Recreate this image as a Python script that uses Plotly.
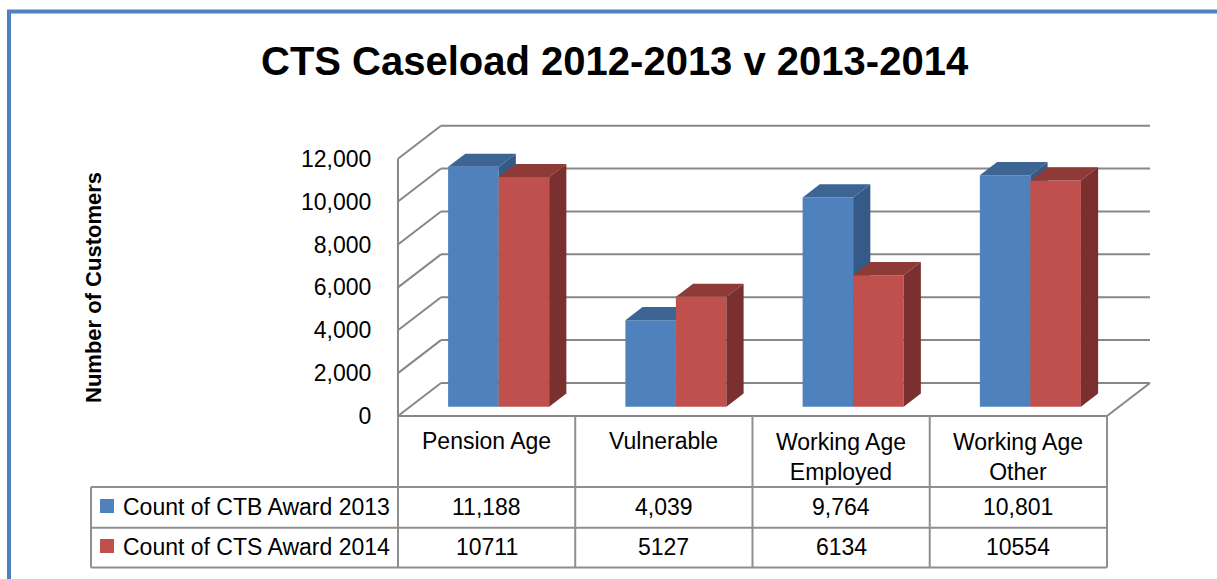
import plotly.graph_objects as go

# ---------------- data ----------------
categories = ["Pension Age", "Vulnerable", "Working Age<br>Employed", "Working Age<br>Other"]
series_names = ["Count of CTB Award 2013", "Count of CTS Award 2014"]
ctb_2013 = [11188, 4039, 9764, 10801]
cts_2014 = [10711, 5127, 6134, 10554]
y_ticks = [0, 2000, 4000, 6000, 8000, 10000, 12000]
title_text = "CTS Caseload 2012-2013 v 2013-2014"
y_title = "Number of Customers"

# ---------------- layout geometry ----------------
FIG_W, FIG_H = 1217, 579
X0, COLW = 486.6, 177.25          # pixel of first category centre, pixels per category
Y0, SCALE = 416.0, 0.021442       # pixel of value 0 (front), pixels per unit value
DXu = 43 / COLW                   # depth offset in x units
DYu = 33 / SCALE                  # depth offset in value units
BAR_W = 0.285
D_FRONT, D_BACK = 0.28, 0.68
FONT = "Liberation Sans"
GRID = "#878787"
TABLE_LINE = "#8f8f8f"

colors_front = ["#4F81BD", "#C0504D"]
colors_top = ["#3D6594", "#8E3B38"]
colors_side = ["#365A88", "#7A302E"]

x_range = [(0 - X0) / COLW, (FIG_W - X0) / COLW]
y_range = [(Y0 - FIG_H) / SCALE, Y0 / SCALE]


def pxx(px):
    return px / FIG_W


def pyy(py):
    return 1 - py / FIG_H


fig = go.Figure()

# ---------------- walls / gridlines ----------------
n = len(categories)
left, right = -0.5, n - 0.5
gx, gy = [], []
for v in y_ticks:
    gx += [left + DXu, right + DXu, None]
    gy += [v + DYu, v + DYu, None]
    gx += [left, left + DXu, None]
    gy += [v, v + DYu, None]
gx += [left, left, None]
gy += [0, max(y_ticks), None]
gx += [right, right + DXu, None]
gy += [0, DYu, None]
fig.add_trace(go.Scatter(x=gx, y=gy, mode="lines", line=dict(color=GRID, width=2),
                         hoverinfo="skip", showlegend=False))

# ---------------- 3D bars ----------------
sx, sy = D_FRONT * DXu, D_FRONT * DYu
bx, by = D_BACK * DXu, D_BACK * DYu
for s, vals in enumerate([ctb_2013, cts_2014]):
    fx, fy, tx, ty, kx, ky = [], [], [], [], [], []
    for i, v in enumerate(vals):
        x0 = i - BAR_W + s * BAR_W
        x1 = x0 + BAR_W
        fx += [x0 + sx, x1 + sx, x1 + sx, x0 + sx, x0 + sx, None]
        fy += [sy, sy, v + sy, v + sy, sy, None]
        tx += [x0 + sx, x1 + sx, x1 + bx, x0 + bx, x0 + sx, None]
        ty += [v + sy, v + sy, v + by, v + by, v + sy, None]
        kx += [x1 + sx, x1 + bx, x1 + bx, x1 + sx, x1 + sx, None]
        ky += [sy, by, v + by, v + sy, sy, None]
    for xs, ys, col in [(fx, fy, colors_front[s]), (tx, ty, colors_top[s]), (kx, ky, colors_side[s])]:
        fig.add_trace(go.Scatter(x=xs, y=ys, mode="lines", fill="toself", fillcolor=col,
                                 line=dict(width=0, color=col), hoverinfo="skip",
                                 showlegend=False, name=series_names[s]))

# ---------------- data table ----------------
shapes = []
row_py = [416, 487, 527.7, 567.5]
table_left_px = 91
shapes.append(dict(type="line", xref="x", yref="paper", x0=left, x1=right,
                   y0=pyy(row_py[0]), y1=pyy(row_py[0]), line=dict(color=GRID, width=2)))
for py in row_py[1:]:
    shapes.append(dict(type="line", xref="paper", yref="paper", x0=pxx(table_left_px),
                       x1=(right - x_range[0]) / (x_range[1] - x_range[0]),
                       y0=pyy(py), y1=pyy(py), line=dict(color=TABLE_LINE, width=2)))
for k in range(n + 1):
    xv = left + k
    shapes.append(dict(type="line", xref="x", yref="paper", x0=xv, x1=xv,
                       y0=pyy(row_py[0]), y1=pyy(row_py[-1]), line=dict(color=TABLE_LINE, width=2)))
shapes.append(dict(type="line", xref="paper", yref="paper", x0=pxx(table_left_px), x1=pxx(table_left_px),
                   y0=pyy(row_py[1]), y1=pyy(row_py[-1]), line=dict(color=TABLE_LINE, width=2)))

for s in range(2):
    top = 499 + 40 * s
    shapes.append(dict(type="rect", xref="paper", yref="paper", x0=pxx(100), x1=pxx(114),
                       y0=pyy(top), y1=pyy(top + 14), fillcolor=colors_front[s], line=dict(width=0)))

shapes.append(dict(type="rect", xref="paper", yref="paper", x0=pxx(9), x1=1.05,
                   y0=pyy(11.5), y1=-0.05, line=dict(color="#4F81BD", width=4)))

annotations = []
for i, c in enumerate(categories):
    two = "<br>" in c
    annotations.append(dict(x=i, y=pyy(457 if two else 441), xref="x", yref="paper", text=c,
                            showarrow=False, font=dict(family=FONT, size=23, color="black"),
                            xanchor="center", yanchor="middle"))
for i in range(n):
    annotations.append(dict(x=i, y=pyy(507), xref="x", yref="paper", text=f"{ctb_2013[i]:,}",
                            showarrow=False, xanchor="center", yanchor="middle",
                            font=dict(family=FONT, size=23, color="black")))
    annotations.append(dict(x=i, y=pyy(547), xref="x", yref="paper", text=f"{cts_2014[i]}",
                            showarrow=False, xanchor="center", yanchor="middle",
                            font=dict(family=FONT, size=23, color="black")))
for s, name in enumerate(series_names):
    annotations.append(dict(x=pxx(121), y=pyy(507 + 40 * s), xref="paper", yref="paper", text=name,
                            showarrow=False, xanchor="left", yanchor="middle",
                            font=dict(family=FONT, size=23, color="black")))
annotations.append(dict(x=pxx(615), y=pyy(61), xref="paper", yref="paper", text=f"<b>{title_text}</b>",
                        showarrow=False, xanchor="center", yanchor="middle",
                        font=dict(family=FONT, size=40, color="black")))
annotations.append(dict(x=pxx(93), y=pyy(288), xref="paper", yref="paper", text=f"<b>{y_title}</b>",
                        showarrow=False, textangle=-90, xanchor="center", yanchor="middle",
                        font=dict(family=FONT, size=22, color="black")))

fig.update_layout(
    width=FIG_W, height=FIG_H, autosize=False,
    margin=dict(l=0, r=0, t=0, b=0, pad=0),
    paper_bgcolor="white", plot_bgcolor="white",
    showlegend=False,
    xaxis=dict(range=x_range, domain=[0, 1], visible=False, fixedrange=True),
    yaxis=dict(range=y_range, domain=[0, 1], anchor="free", position=398 / FIG_W,
               tickvals=y_ticks, ticktext=[f"{v:,}" for v in y_ticks],
               ticks="outside", ticklen=22, tickcolor="rgba(0,0,0,0)",
               showgrid=False, zeroline=False, showline=False,
               tickfont=dict(family=FONT, size=23, color="black"), fixedrange=True),
    shapes=shapes, annotations=annotations,
)

fig.write_html("out.html")
